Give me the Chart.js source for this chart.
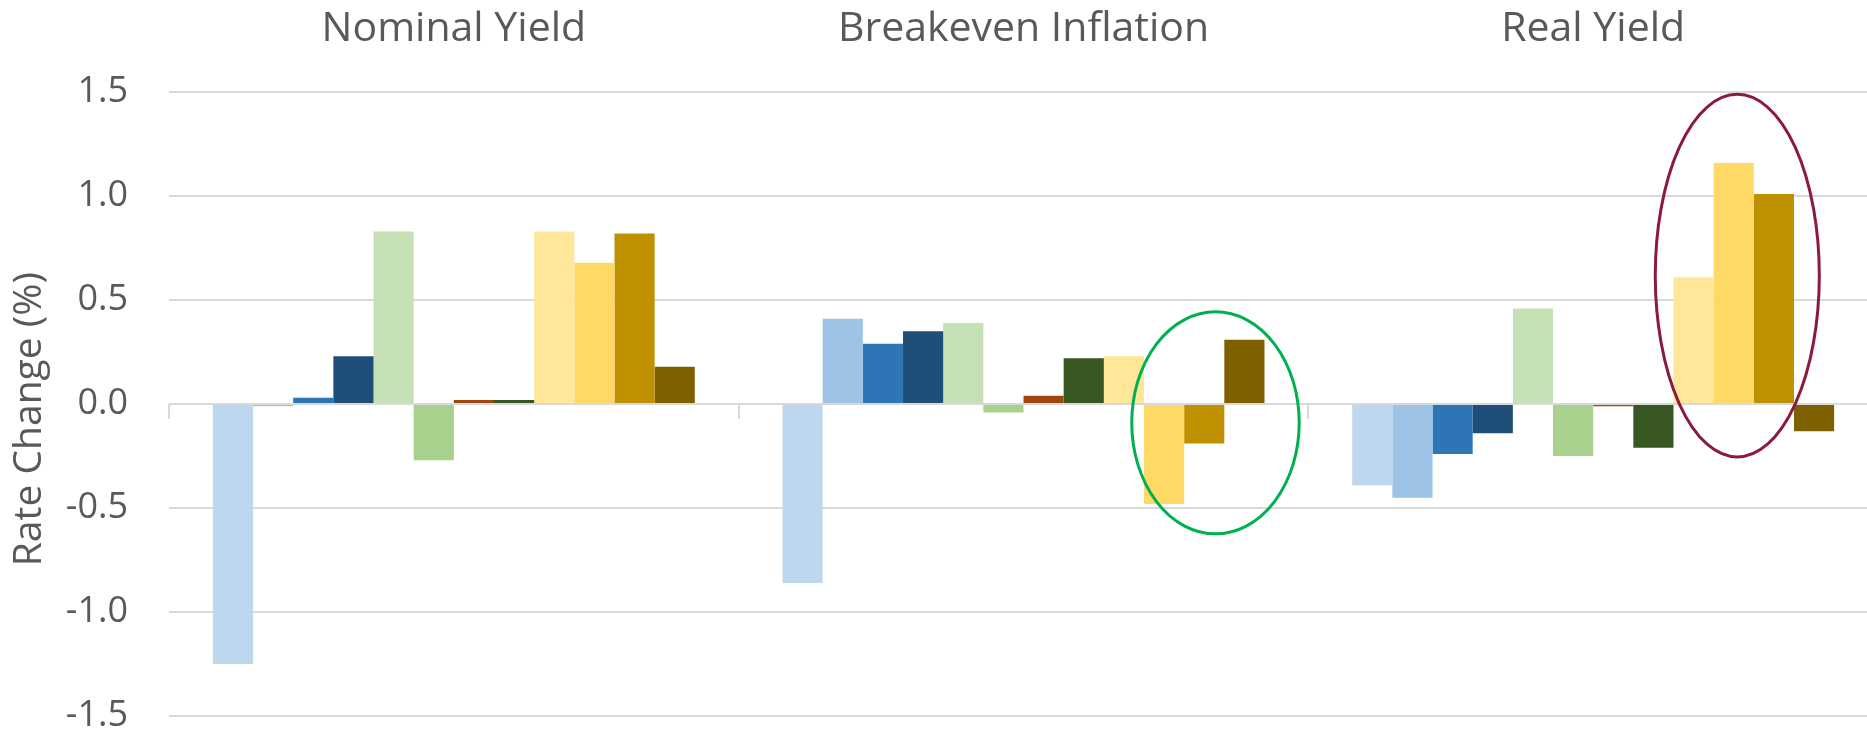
<!DOCTYPE html>
<html>
<head>
<meta charset="utf-8">
<script src="https://cdn.jsdelivr.net/npm/chart.js@4"></script>
<style>
    html, body { margin: 0; padding: 0; background: #fff; overflow: hidden; }
    #rateChart { display: block; }
</style>
</head>
<body>
<canvas id="rateChart" width="1867" height="735"></canvas>
<script>
var categories = ['Nominal Yield', 'Breakeven Inflation', 'Real Yield'];

// 12 bars per group, read left to right
var nominalYield = [-1.25, -0.01, 0.03, 0.23, 0.83, -0.27, 0.02, 0.02, 0.83, 0.68, 0.82, 0.18];
var breakevenInflation = [-0.86, 0.41, 0.29, 0.35, 0.39, -0.04, 0.04, 0.22, 0.23, -0.48, -0.19, 0.31];
var realYield = [-0.39, -0.45, -0.24, -0.14, 0.46, -0.25, -0.01, -0.21, 0.61, 1.16, 1.01, -0.13];

var seriesColors = ['#BDD7EE', '#9DC3E6', '#2E75B6', '#1F4E79', '#C5E0B4', '#A9D18E',
                    '#9E480E', '#385723', '#FFE699', '#FFD966', '#BF9000', '#7F6000'];

var yTicks = [-1.5, -1.0, -0.5, 0.0, 0.5, 1.0, 1.5];
var yTitle = 'Rate Change (%)';

// circled groups: category index, offset from category centre (fraction of category width), centre value, radii
var highlights = [
    { cat: 1, dx: 0.337, yc: -0.09, rx: 0.147, ry: 0.534, color: '#00B050' },
    { cat: 2, dx: 0.253, yc: 0.618, rx: 0.144, ry: 0.872, color: '#8B1A3C' }
];

// the original plot is cut off on the right, the last group runs past the edge
var plotOverhang = 13;

var groups = [nominalYield, breakevenInflation, realYield];
var datasets = seriesColors.map(function (c, i) {
    return {
        label: 'Series ' + (i + 1),
        data: groups.map(g => g[i]),
        backgroundColor: c,
        borderWidth: 0,
        categoryPercentage: 0.846,
        barPercentage: 1.0
    };
});

// chart.js puts tick padding on both sides of the labels, drop the outer one
function trimAxis(axis) {
    var pad = axis.options.ticks.padding;
    if (axis.isHorizontal()) {
        axis.height -= pad;
    } else {
        axis.width -= pad;
    }
    axis.paddingTop = 0;
    axis.paddingBottom = 0;
    axis.paddingLeft = 0;
    axis.paddingRight = 0;
}

var overhang = {
    id: 'overhang',
    afterLayout: function (chart) {
        var area = chart.chartArea;
        var x = chart.scales.x;
        area.right += plotOverhang;
        area.width = area.right - area.left;
        x.right = area.right;
        x.width = area.width;
        x.configure();
    }
};

// little tick marks under the zero line, the ellipses and the y title
// (the axis title itself is left invisible, it only reserves the space)
var extras = {
    id: 'extras',
    afterDatasetsDraw: function (chart) {
        var ctx = chart.ctx;
        var x = chart.scales.x, y = chart.scales.y;
        var catW = x.width / categories.length;
        var y0 = y.getPixelForValue(0);
        ctx.save();
        ctx.strokeStyle = '#D9D9D9';
        ctx.lineWidth = 2;
        for (var i = 0; i <= categories.length; i++) {
            var px = Math.round(x.left + i * catW);
            ctx.beginPath();
            ctx.moveTo(px, y0);
            ctx.lineTo(px, y0 + 15);
            ctx.stroke();
        }
        highlights.forEach(h => {
            var cx = x.getPixelForValue(h.cat) + h.dx * catW;
            var cy = y.getPixelForValue(h.yc);
            var ry = y.getPixelForValue(h.yc - h.ry) - cy;
            ctx.beginPath();
            ctx.strokeStyle = h.color;
            ctx.lineWidth = 3;
            ctx.ellipse(cx, cy, h.rx * catW, ry, 0, 0, Math.PI * 2);
            ctx.stroke();
        });

        ctx.translate(y.left + 19, (chart.chartArea.top + chart.chartArea.bottom) / 2 + 15);
        ctx.rotate(-Math.PI / 2);
        ctx.font = '39px "Open Sans"';
        ctx.fillStyle = '#595959';
        ctx.textAlign = 'center';
        ctx.textBaseline = 'middle';
        ctx.fillText(yTitle, 0, 0);
        ctx.restore();
    }
};

var ctx = document.getElementById('rateChart').getContext('2d');
var rateChart = new Chart(ctx, {
    type: 'bar',
    data: { labels: categories, datasets: datasets },
    options: {
        responsive: false,
        animation: false,
        layout: { padding: { left: 11, top: 5, right: 2, bottom: 19 } },
        plugins: {
            legend: { display: false },
            tooltip: { enabled: false }
        },
        scales: {
            x: {
                position: 'top',
                afterFit: trimAxis,
                grid: { display: false, drawTicks: false },
                border: { display: false },
                ticks: {
                    color: '#595959',
                    padding: 38,
                    font: { family: 'Open Sans', size: 41 }
                }
            },
            y: {
                min: -1.5,
                max: 1.5,
                afterFit: trimAxis,
                afterBuildTicks: function (axis) {
                    axis.ticks = yTicks.map(v => ({ value: v }));
                },
                grid: { color: '#D9D9D9', lineWidth: 2, drawTicks: false },
                border: { display: false },
                ticks: {
                    color: '#595959',
                    padding: 41,
                    font: { family: 'Open Sans', size: 36 },
                    callback: function (v) { return v.toFixed(1); }
                },
                title: {
                    display: true,
                    text: yTitle,
                    color: 'rgba(0,0,0,0)',
                    padding: { top: 2, bottom: 6 },
                    font: { family: 'Open Sans', size: 39 }
                }
            }
        }
    },
    plugins: [overhang, extras]
});
</script>
</body>
</html>
